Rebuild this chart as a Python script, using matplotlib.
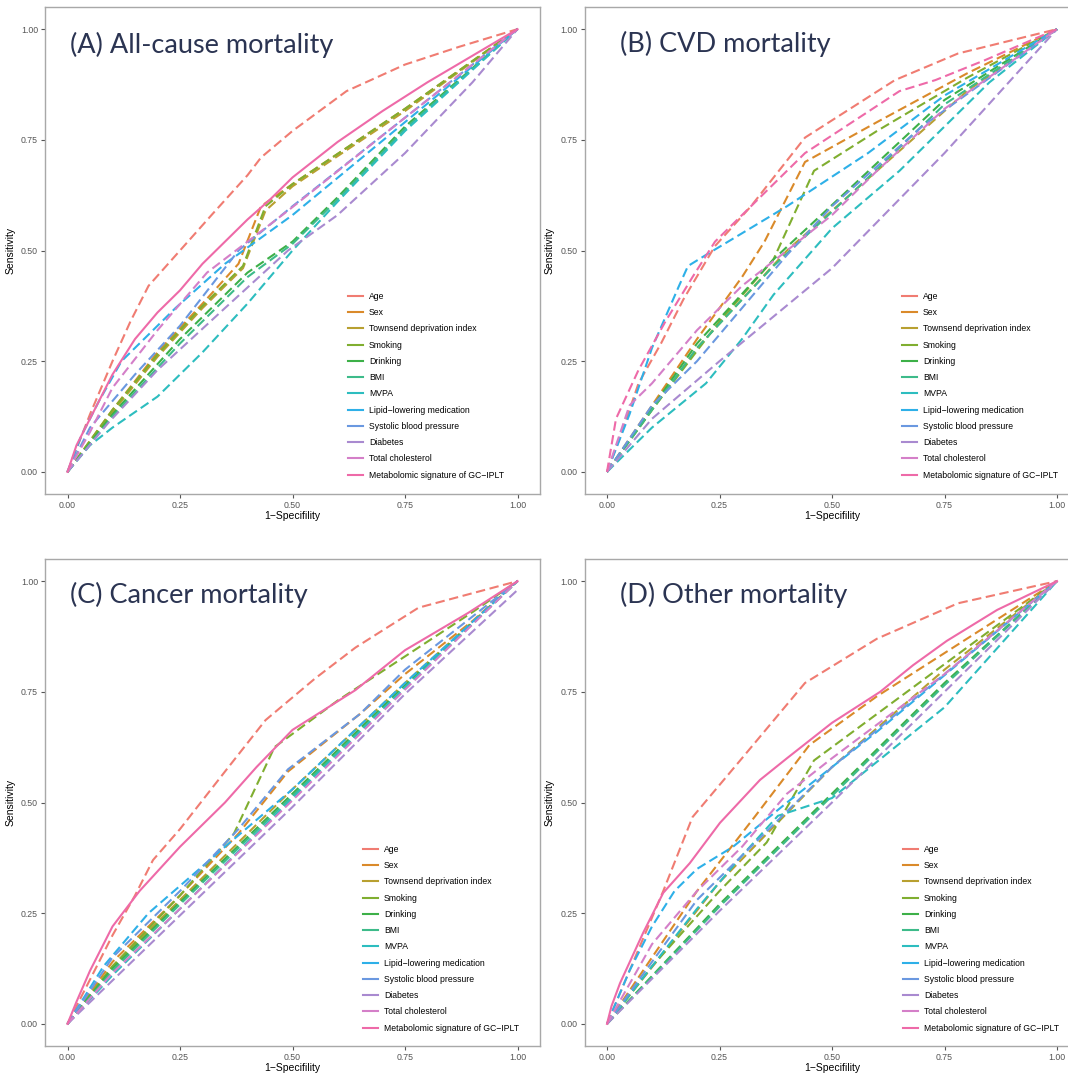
import matplotlib
matplotlib.use("Agg")
import matplotlib.pyplot as plt
from matplotlib.lines import Line2D

# ---------------- data ----------------
labels = ["Age", "Sex", "Townsend deprivation index", "Smoking", "Drinking", "BMI",
          "MVPA", "Lipid\u2212lowering medication", "Systolic blood pressure", "Diabetes",
          "Total cholesterol", "Metabolomic signature of GC\u2212IPLT"]

panel_titles = ["(A) All-cause mortality", "(B) CVD mortality",
                "(C) Cancer mortality", "(D) Other mortality"]

x_ticks = [0.0, 0.25, 0.5, 0.75, 1.0]
tick_labels = ["0.00", "0.25", "0.50", "0.75", "1.00"]

# Panel A: all-cause mortality  (x = 1-specificity, y = sensitivity)
A_age_x = [0, 0.05, 0.10, 0.14, 0.18, 0.25, 0.32, 0.40, 0.43, 0.50, 0.62, 0.75, 0.87, 1]
A_age_y = [0, 0.13, 0.25, 0.34, 0.42, 0.50, 0.58, 0.67, 0.71, 0.77, 0.86, 0.92, 0.96, 1]
A_sex_x = [0, 0.10, 0.20, 0.30, 0.38, 0.43, 0.50, 0.75, 1]
A_sex_y = [0, 0.14, 0.27, 0.38, 0.47, 0.60, 0.65, 0.82, 1]
A_tdi_x = [0, 0.10, 0.20, 0.30, 0.39, 0.44, 0.50, 0.75, 1]
A_tdi_y = [0, 0.135, 0.26, 0.37, 0.46, 0.59, 0.645, 0.815, 1]
A_smk_x = [0, 0.10, 0.20, 0.30, 0.39, 0.44, 0.50, 0.75, 1]
A_smk_y = [0, 0.14, 0.265, 0.375, 0.465, 0.60, 0.65, 0.82, 1]
A_drk_x = [0, 0.10, 0.25, 0.40, 0.50, 0.60, 0.75, 1]
A_drk_y = [0, 0.13, 0.30, 0.45, 0.52, 0.62, 0.78, 1]
A_bmi_x = [0, 0.10, 0.25, 0.40, 0.50, 0.60, 0.75, 1]
A_bmi_y = [0, 0.125, 0.29, 0.44, 0.515, 0.615, 0.775, 1]
A_mvpa_x = [0, 0.05, 0.10, 0.20, 0.30, 0.40, 0.50, 0.60, 0.75, 1]
A_mvpa_y = [0, 0.06, 0.10, 0.17, 0.27, 0.38, 0.50, 0.61, 0.77, 1]
A_lip_x = [0, 0.03, 0.07, 0.12, 0.24, 0.35, 0.50, 0.75, 1]
A_lip_y = [0, 0.08, 0.16, 0.25, 0.37, 0.47, 0.58, 0.79, 1]
A_sbp_x = [0, 0.05, 0.15, 0.25, 0.38, 0.50, 0.75, 1]
A_sbp_y = [0, 0.10, 0.22, 0.33, 0.50, 0.60, 0.80, 1]
A_dia_x = [0, 0.09, 0.20, 0.35, 0.49, 0.60, 0.75, 0.90, 1]
A_dia_y = [0, 0.11, 0.23, 0.37, 0.50, 0.58, 0.72, 0.88, 1]
A_tc_x = [0, 0.05, 0.10, 0.20, 0.31, 0.49, 0.75, 1]
A_tc_y = [0, 0.09, 0.19, 0.32, 0.45, 0.59, 0.80, 1]
A_met_x = [0, 0.02, 0.05, 0.10, 0.15, 0.20, 0.25, 0.30, 0.35, 0.40, 0.45, 0.50, 0.60, 0.70, 0.80, 0.90, 1]
A_met_y = [0, 0.06, 0.12, 0.22, 0.30, 0.36, 0.41, 0.47, 0.52, 0.57, 0.615, 0.665, 0.745, 0.815, 0.88, 0.94, 1]

# Panel B: CVD mortality
B_age_x = [0, 0.03, 0.07, 0.12, 0.17, 0.24, 0.32, 0.44, 0.64, 0.78, 1]
B_age_y = [0, 0.08, 0.20, 0.29, 0.39, 0.51, 0.60, 0.755, 0.885, 0.945, 1]
B_sex_x = [0, 0.10, 0.20, 0.30, 0.35, 0.44, 0.60, 0.80, 1]
B_sex_y = [0, 0.15, 0.30, 0.44, 0.52, 0.70, 0.79, 0.90, 1]
B_tdi_x = [0, 0.20, 0.40, 0.60, 0.80, 1]
B_tdi_y = [0, 0.28, 0.50, 0.68, 0.86, 1]
B_smk_x = [0, 0.10, 0.25, 0.37, 0.46, 0.60, 0.80, 1]
B_smk_y = [0, 0.14, 0.34, 0.48, 0.68, 0.77, 0.89, 1]
B_drk_x = [0, 0.20, 0.37, 0.55, 0.75, 1]
B_drk_y = [0, 0.29, 0.48, 0.65, 0.84, 1]
B_bmi_x = [0, 0.20, 0.37, 0.55, 0.75, 1]
B_bmi_y = [0, 0.28, 0.465, 0.635, 0.83, 1]
B_mvpa_x = [0, 0.10, 0.22, 0.30, 0.37, 0.50, 0.65, 0.85, 1]
B_mvpa_y = [0, 0.10, 0.20, 0.30, 0.40, 0.55, 0.68, 0.88, 1]
B_lip_x = [0, 0.05, 0.10, 0.16, 0.18, 0.22, 0.40, 0.58, 0.75, 1]
B_lip_y = [0, 0.13, 0.28, 0.42, 0.465, 0.49, 0.60, 0.72, 0.85, 1]
B_sbp_x = [0, 0.10, 0.20, 0.30, 0.40, 0.50, 0.70, 1]
B_sbp_y = [0, 0.15, 0.25, 0.37, 0.49, 0.60, 0.78, 1]
B_dia_x = [0, 0.10, 0.25, 0.50, 0.75, 1]
B_dia_y = [0, 0.12, 0.25, 0.46, 0.72, 1]
B_tc_x = [0, 0.05, 0.10, 0.20, 0.30, 0.40, 0.50, 0.60, 0.75, 1]
B_tc_y = [0, 0.15, 0.20, 0.32, 0.42, 0.50, 0.58, 0.68, 0.82, 1]
B_met_x = [0, 0.02, 0.07, 0.13, 0.19, 0.24, 0.36, 0.44, 0.65, 0.73, 0.84, 1]
B_met_y = [0, 0.12, 0.23, 0.34, 0.44, 0.52, 0.64, 0.72, 0.86, 0.885, 0.93, 1]

# Panel C: cancer mortality
C_age_x = [0, 0.05, 0.10, 0.15, 0.19, 0.25, 0.35, 0.44, 0.55, 0.64, 0.78, 1]
C_age_y = [0, 0.10, 0.20, 0.29, 0.37, 0.44, 0.57, 0.686, 0.78, 0.85, 0.94, 1]
C_sex_x = [0, 0.10, 0.25, 0.38, 0.49, 0.65, 0.75, 0.90, 1]
C_sex_y = [0, 0.14, 0.29, 0.43, 0.57, 0.70, 0.79, 0.91, 1]
C_tdi_x = [0, 0.10, 0.25, 0.50, 0.75, 1]
C_tdi_y = [0, 0.13, 0.28, 0.53, 0.77, 1]
C_smk_x = [0, 0.10, 0.25, 0.37, 0.46, 0.60, 0.75, 0.90, 1]
C_smk_y = [0, 0.13, 0.29, 0.43, 0.625, 0.73, 0.83, 0.93, 1]
C_drk_x = [0, 0.10, 0.25, 0.50, 0.75, 1]
C_drk_y = [0, 0.125, 0.275, 0.52, 0.765, 1]
C_bmi_x = [0, 0.10, 0.25, 0.50, 0.75, 1]
C_bmi_y = [0, 0.12, 0.27, 0.515, 0.76, 1]
C_mvpa_x = [0, 0.10, 0.25, 0.50, 0.75, 1]
C_mvpa_y = [0, 0.11, 0.26, 0.51, 0.76, 1]
C_lip_x = [0, 0.08, 0.18, 0.35, 0.50, 0.75, 1]
C_lip_y = [0, 0.13, 0.25, 0.40, 0.53, 0.77, 1]
C_sbp_x = [0, 0.10, 0.25, 0.38, 0.49, 0.65, 0.75, 0.90, 1]
C_sbp_y = [0, 0.15, 0.30, 0.44, 0.575, 0.70, 0.80, 0.92, 1]
C_dia_x = [0, 0.25, 0.50, 0.75, 1]
C_dia_y = [0, 0.245, 0.49, 0.745, 0.98]
C_tc_x = [0, 0.10, 0.25, 0.50, 0.75, 1]
C_tc_y = [0, 0.115, 0.26, 0.505, 0.755, 1]
C_met_x = [0, 0.02, 0.05, 0.10, 0.16, 0.25, 0.35, 0.42, 0.50, 0.64, 0.75, 0.89, 1]
C_met_y = [0, 0.05, 0.12, 0.22, 0.30, 0.40, 0.50, 0.58, 0.664, 0.754, 0.844, 0.928, 1]

# Panel D: other mortality
D_age_x = [0, 0.05, 0.10, 0.125, 0.19, 0.30, 0.44, 0.60, 0.78, 1]
D_age_y = [0, 0.12, 0.24, 0.30, 0.467, 0.60, 0.77, 0.87, 0.95, 1]
D_sex_x = [0, 0.10, 0.20, 0.33, 0.45, 0.60, 0.80, 1]
D_sex_y = [0, 0.15, 0.30, 0.47, 0.63, 0.74, 0.87, 1]
D_tdi_x = [0, 0.25, 0.50, 0.75, 1]
D_tdi_y = [0, 0.32, 0.58, 0.80, 1]
D_smk_x = [0, 0.10, 0.25, 0.355, 0.46, 0.60, 0.80, 1]
D_smk_y = [0, 0.13, 0.30, 0.41, 0.595, 0.70, 0.85, 1]
D_drk_x = [0, 0.25, 0.50, 0.75, 1]
D_drk_y = [0, 0.27, 0.52, 0.77, 1]
D_bmi_x = [0, 0.25, 0.50, 0.75, 1]
D_bmi_y = [0, 0.265, 0.515, 0.765, 1]
D_mvpa_x = [0, 0.10, 0.20, 0.30, 0.38, 0.50, 0.75, 1]
D_mvpa_y = [0, 0.13, 0.26, 0.38, 0.47, 0.51, 0.715, 1]
D_lip_x = [0, 0.05, 0.10, 0.15, 0.20, 0.28, 0.40, 0.60, 0.80, 1]
D_lip_y = [0, 0.12, 0.22, 0.30, 0.35, 0.40, 0.50, 0.66, 0.83, 1]
D_sbp_x = [0, 0.20, 0.40, 0.50, 0.75, 1]
D_sbp_y = [0, 0.28, 0.48, 0.58, 0.79, 1]
D_dia_x = [0, 0.25, 0.50, 0.75, 1]
D_dia_y = [0, 0.255, 0.50, 0.75, 1]
D_tc_x = [0, 0.10, 0.20, 0.30, 0.40, 0.50, 0.75, 1]
D_tc_y = [0, 0.18, 0.30, 0.40, 0.52, 0.60, 0.79, 1]
D_met_x = [0, 0.01, 0.029, 0.08, 0.125, 0.184, 0.251, 0.34, 0.40, 0.45, 0.50, 0.607, 0.68, 0.755, 0.867, 1]
D_met_y = [0, 0.04, 0.092, 0.205, 0.296, 0.363, 0.454, 0.551, 0.60, 0.64, 0.68, 0.75, 0.81, 0.865, 0.935, 1]

panels = [
    [(A_age_x, A_age_y), (A_sex_x, A_sex_y), (A_tdi_x, A_tdi_y), (A_smk_x, A_smk_y),
     (A_drk_x, A_drk_y), (A_bmi_x, A_bmi_y), (A_mvpa_x, A_mvpa_y), (A_lip_x, A_lip_y),
     (A_sbp_x, A_sbp_y), (A_dia_x, A_dia_y), (A_tc_x, A_tc_y), (A_met_x, A_met_y)],
    [(B_age_x, B_age_y), (B_sex_x, B_sex_y), (B_tdi_x, B_tdi_y), (B_smk_x, B_smk_y),
     (B_drk_x, B_drk_y), (B_bmi_x, B_bmi_y), (B_mvpa_x, B_mvpa_y), (B_lip_x, B_lip_y),
     (B_sbp_x, B_sbp_y), (B_dia_x, B_dia_y), (B_tc_x, B_tc_y), (B_met_x, B_met_y)],
    [(C_age_x, C_age_y), (C_sex_x, C_sex_y), (C_tdi_x, C_tdi_y), (C_smk_x, C_smk_y),
     (C_drk_x, C_drk_y), (C_bmi_x, C_bmi_y), (C_mvpa_x, C_mvpa_y), (C_lip_x, C_lip_y),
     (C_sbp_x, C_sbp_y), (C_dia_x, C_dia_y), (C_tc_x, C_tc_y), (C_met_x, C_met_y)],
    [(D_age_x, D_age_y), (D_sex_x, D_sex_y), (D_tdi_x, D_tdi_y), (D_smk_x, D_smk_y),
     (D_drk_x, D_drk_y), (D_bmi_x, D_bmi_y), (D_mvpa_x, D_mvpa_y), (D_lip_x, D_lip_y),
     (D_sbp_x, D_sbp_y), (D_dia_x, D_dia_y), (D_tc_x, D_tc_y), (D_met_x, D_met_y)],
]
# metabolomic signature drawn solid in A, C, D; dashed in B
met_solid = [True, False, True, True]

# ---------------- style ----------------
colors = ["#F07C72", "#DA8A2A", "#B8A030", "#80AE30", "#3DB048", "#3DBB8A",
          "#2DBDBF", "#2EB0E8", "#6A98E0", "#A98AD0", "#D47FC8", "#EE6AA8"]

W, H = 1068, 1075
fig = plt.figure(figsize=(W / 100, H / 100), dpi=100)
fig.patch.set_facecolor("white")

def px_axes(left, top, right, bottom):
    return fig.add_axes([left / W, 1 - bottom / H, (right - left) / W, (bottom - top) / H])

frames = [(45, 7, 540, 494), (584.5, 7, 1079.5, 494),
          (45, 559, 540, 1046), (584.5, 559, 1079.5, 1046)]
title_pos = [(70, 45), (620, 44), (70, 595), (620, 595)]
legend_pos = [(348, 292), (902, 292), (363, 845), (903, 845)]

for i, (fr, series) in enumerate(zip(frames, panels)):
    ax = px_axes(*fr)
    for j, (xs, ys) in enumerate(series):
        solid = (j == len(series) - 1 and met_solid[i])
        if solid:
            ax.plot(xs, ys, color=colors[j], lw=1.5, solid_joinstyle="round")
        else:
            ax.plot(xs, ys, color=colors[j], lw=1.5, dashes=(4.5, 2.2))
    ax.set_xlim(-0.05, 1.05)
    ax.set_ylim(-0.05, 1.05)
    ax.set_xticks(x_ticks)
    ax.set_xticklabels(tick_labels)
    ax.set_yticks(x_ticks)
    ax.set_yticklabels(tick_labels)
    ax.tick_params(axis="both", length=3, width=0.8, color="#555555",
                   labelsize=6.3, labelcolor="#555555", pad=2)
    for lab in ax.get_xticklabels() + ax.get_yticklabels():
        lab.set_family("Liberation Sans")
    for sp in ax.spines.values():
        sp.set_color("#A8A8A8")
        sp.set_linewidth(1.0)
    ax.set_xlabel("1\u2212Specifility", fontsize=7.5, family="Liberation Sans", labelpad=1)
    ax.set_ylabel("Sensitivity", fontsize=7.5, family="Liberation Sans", labelpad=4)
    handles = [Line2D([0], [0], color=c, lw=1.5) for c in colors]
    lx, ly = legend_pos[i]
    ax.legend(handles, labels, loc="upper left", bbox_to_anchor=(lx / W, 1 - ly / H),
              bbox_transform=fig.transFigure, frameon=False, borderpad=0, borderaxespad=0,
              handlelength=1.7, handletextpad=0.75, labelspacing=0.84,
              prop={"family": "Liberation Sans", "size": 6.2})
    tx, ty = title_pos[i]
    fig.text(tx / W, 1 - ty / H, panel_titles[i], fontsize=19.5, family="Lato",
             color="#2B3452", va="center", ha="left")

fig.savefig("out.png", dpi=100, facecolor="white")
